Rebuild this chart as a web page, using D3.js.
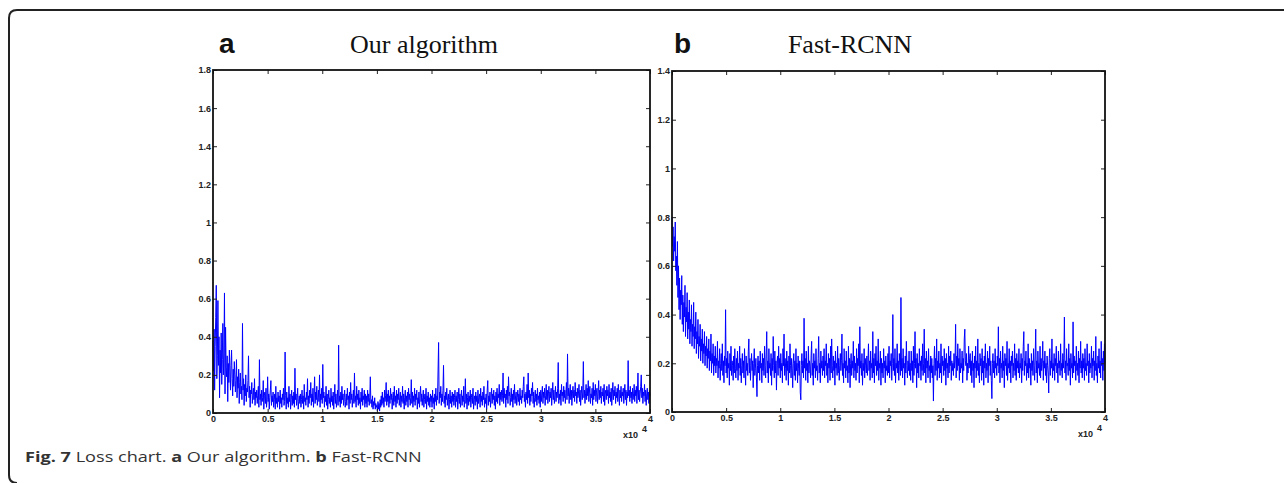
<!DOCTYPE html>
<html>
<head>
<meta charset="utf-8">
<script src="https://cdn.jsdelivr.net/npm/d3@7"></script>
<style>
  body { margin: 0; background: #fff; }
  .tick text { font-family: "Liberation Sans", Arial, sans-serif; font-weight: bold; font-size: 9px; fill: #222; }
</style>
</head>
<body>
<div id="vis"></div>
<script>
// Loss chart, two panels (a: our algorithm, b: Fast-RCNN)

const FRAME_WIDTH = 1284;
const FRAME_HEIGHT = 483;
const MAX_ITER = 40000;

const xTickValues = [0, 5000, 10000, 15000, 20000, 25000, 30000, 35000, 40000];
const xTickLabels = ["0", "0.5", "1", "1.5", "2", "2.5", "3", "3.5", "4"];

const yTicksA = [0, 0.2, 0.4, 0.6, 0.8, 1, 1.2, 1.4, 1.6, 1.8];
const yTickLabelsA = ["0", "0.2", "0.4", "0.6", "0.8", "1", "1.2", "1.4", "1.6", "1.8"];
const yTicksB = [0, 0.2, 0.4, 0.6, 0.8, 1, 1.2, 1.4];
const yTickLabelsB = ["0", "0.2", "0.4", "0.6", "0.8", "1", "1.2", "1.4"];

// loss, one value every 50 iterations (each row = 2000 iterations)
const lossA = [
  0.38, 0.22, 0.44, 0.12, 0.35, 0.50, 0.67, 0.18, 0.30, 0.59, 0.25, 0.40, 0.08, 0.33, 0.21, 0.42, 0.15, 0.28, 0.47, 0.20, 0.31, 0.63, 0.10, 0.45, 0.24, 0.19, 0.30, 0.06, 0.26, 0.16, 0.33, 0.22, 0.12, 0.25, 0.33, 0.18, 0.09, 0.23, 0.14, 0.27,
  0.20, 0.11, 0.17, 0.28, 0.08, 0.19, 0.13, 0.23, 0.05, 0.16, 0.21, 0.10, 0.14, 0.07, 0.47, 0.12, 0.18, 0.04, 0.15, 0.09, 0.20, 0.06, 0.13, 0.11, 0.17, 0.30, 0.08, 0.14, 0.03, 0.12, 0.10, 0.16, 0.05, 0.09, 0.13, 0.07, 0.18, 0.04, 0.11, 0.08,
  0.12, 0.05, 0.09, 0.14, 0.03, 0.28, 0.07, 0.10, 0.04, 0.12, 0.06, 0.08, 0.17, 0.02, 0.09, 0.11, 0.05, 0.13, 0.03, 0.07, 0.19, 0.06, 0.10, 0.02, 0.08, 0.12, 0.17, 0.04, 0.09, 0.06, 0.11, 0.03, 0.07, 0.10, 0.02, 0.14, 0.05, 0.08, 0.03, 0.11,
  0.06, 0.09, 0.02, 0.12, 0.05, 0.08, 0.03, 0.10, 0.07, 0.13, 0.04, 0.06, 0.32, 0.09, 0.02, 0.11, 0.05, 0.08, 0.03, 0.14, 0.06, 0.10, 0.02, 0.07, 0.12, 0.04, 0.09, 0.05, 0.11, 0.03, 0.235, 0.07, 0.10, 0.04, 0.08, 0.13, 0.02, 0.06, 0.09, 0.05,
  0.10, 0.03, 0.07, 0.12, 0.05, 0.09, 0.02, 0.15, 0.06, 0.08, 0.04, 0.11, 0.07, 0.18, 0.03, 0.09, 0.05, 0.12, 0.08, 0.16, 0.04, 0.10, 0.06, 0.13, 0.03, 0.09, 0.19, 0.05, 0.11, 0.07, 0.14, 0.04, 0.08, 0.12, 0.06, 0.20, 0.03, 0.10, 0.07, 0.13,
  0.05, 0.255, 0.08, 0.11, 0.03, 0.09, 0.06, 0.14, 0.04, 0.10, 0.02, 0.07, 0.12, 0.05, 0.08, 0.03, 0.13, 0.06, 0.09, 0.04, 0.11, 0.02, 0.08, 0.15, 0.05, 0.10, 0.03, 0.07, 0.12, 0.04, 0.356, 0.06, 0.09, 0.03, 0.11, 0.05, 0.14, 0.07, 0.10, 0.04,
  0.08, 0.12, 0.03, 0.06, 0.10, 0.04, 0.13, 0.07, 0.09, 0.02, 0.11, 0.05, 0.16, 0.07, 0.10, 0.03, 0.08, 0.12, 0.05, 0.21, 0.06, 0.09, 0.03, 0.14, 0.07, 0.10, 0.04, 0.12, 0.05, 0.08, 0.02, 0.11, 0.06, 0.13, 0.04, 0.09, 0.07, 0.12, 0.03, 0.10,
  0.05, 0.09, 0.03, 0.12, 0.06, 0.10, 0.04, 0.08, 0.19, 0.05, 0.07, 0.03, 0.09, 0.02, 0.06, 0.04, 0.08, 0.02, 0.05, 0.03, 0.04, 0.01, 0.06, 0.02, 0.05, 0.01, 0.07, 0.03, 0.09, 0.04, 0.11, 0.05, 0.08, 0.03, 0.12, 0.06, 0.09, 0.16, 0.04, 0.10,
  0.06, 0.12, 0.03, 0.09, 0.05, 0.13, 0.07, 0.10, 0.02, 0.08, 0.11, 0.04, 0.14, 0.06, 0.09, 0.03, 0.12, 0.05, 0.10, 0.07, 0.13, 0.04, 0.08, 0.11, 0.03, 0.09, 0.06, 0.14, 0.05, 0.10, 0.02, 0.08, 0.12, 0.04, 0.09, 0.06, 0.11, 0.03, 0.13, 0.07,
  0.10, 0.04, 0.08, 0.175, 0.05, 0.11, 0.03, 0.09, 0.06, 0.13, 0.04, 0.10, 0.07, 0.12, 0.02, 0.08, 0.05, 0.11, 0.03, 0.09, 0.14, 0.06, 0.10, 0.04, 0.08, 0.12, 0.03, 0.07, 0.10, 0.05, 0.13, 0.02, 0.09, 0.06, 0.11, 0.04, 0.08, 0.03, 0.10, 0.06,
  0.09, 0.03, 0.12, 0.05, 0.08, 0.02, 0.10, 0.06, 0.13, 0.04, 0.09, 0.07, 0.22, 0.37, 0.05, 0.11, 0.08, 0.14, 0.04, 0.10, 0.06, 0.12, 0.25, 0.05, 0.09, 0.03, 0.11, 0.07, 0.13, 0.04, 0.08, 0.10, 0.02, 0.07, 0.12, 0.05, 0.09, 0.03, 0.11, 0.06,
  0.10, 0.04, 0.08, 0.12, 0.03, 0.09, 0.06, 0.11, 0.02, 0.07, 0.13, 0.05, 0.10, 0.03, 0.08, 0.12, 0.04, 0.09, 0.06, 0.14, 0.03, 0.07, 0.18, 0.05, 0.10, 0.02, 0.08, 0.11, 0.04, 0.09, 0.06, 0.12, 0.03, 0.08, 0.10, 0.05, 0.13, 0.02, 0.07, 0.09,
  0.04, 0.11, 0.06, 0.09, 0.02, 0.12, 0.05, 0.08, 0.10, 0.03, 0.13, 0.06, 0.09, 0.04, 0.11, 0.07, 0.14, 0.03, 0.08, 0.05, 0.10, 0.02, 0.12, 0.17, 0.04, 0.09, 0.06, 0.11, 0.03, 0.08, 0.13, 0.05, 0.10, 0.07, 0.12, 0.04, 0.09, 0.02, 0.11, 0.06,
  0.13, 0.05, 0.10, 0.08, 0.15, 0.04, 0.11, 0.07, 0.12, 0.06, 0.09, 0.21, 0.05, 0.13, 0.08, 0.10, 0.03, 0.12, 0.07, 0.14, 0.05, 0.19, 0.09, 0.11, 0.04, 0.08, 0.13, 0.06, 0.10, 0.03, 0.12, 0.07, 0.15, 0.05, 0.09, 0.11, 0.04, 0.08, 0.12, 0.06,
  0.10, 0.04, 0.13, 0.07, 0.09, 0.05, 0.12, 0.08, 0.14, 0.19, 0.06, 0.10, 0.03, 0.11, 0.07, 0.15, 0.05, 0.21, 0.08, 0.12, 0.04, 0.10, 0.06, 0.13, 0.09, 0.16, 0.05, 0.11, 0.03, 0.08, 0.12, 0.06, 0.10, 0.04, 0.13, 0.07, 0.09, 0.05, 0.11, 0.03,
  0.12, 0.06, 0.10, 0.14, 0.05, 0.11, 0.08, 0.13, 0.04, 0.09, 0.15, 0.07, 0.12, 0.05, 0.10, 0.14, 0.06, 0.11, 0.08, 0.13, 0.04, 0.10, 0.16, 0.07, 0.12, 0.05, 0.09, 0.14, 0.06, 0.11, 0.08, 0.13, 0.265, 0.05, 0.10, 0.07, 0.12, 0.04, 0.15, 0.09,
  0.11, 0.06, 0.14, 0.08, 0.12, 0.05, 0.10, 0.16, 0.07, 0.31, 0.09, 0.13, 0.05, 0.11, 0.15, 0.07, 0.12, 0.04, 0.10, 0.14, 0.08, 0.12, 0.06, 0.16, 0.09, 0.11, 0.05, 0.13, 0.08, 0.10, 0.15, 0.06, 0.12, 0.04, 0.10, 0.14, 0.07, 0.11, 0.27, 0.08,
  0.12, 0.05, 0.10, 0.15, 0.07, 0.13, 0.09, 0.17, 0.06, 0.11, 0.14, 0.05, 0.10, 0.08, 0.13, 0.04, 0.16, 0.07, 0.12, 0.09, 0.15, 0.06, 0.11, 0.13, 0.05, 0.10, 0.17, 0.07, 0.12, 0.08, 0.14, 0.05, 0.11, 0.09, 0.13, 0.06, 0.15, 0.04, 0.10, 0.12,
  0.07, 0.14, 0.09, 0.12, 0.05, 0.15, 0.08, 0.11, 0.06, 0.13, 0.04, 0.10, 0.16, 0.07, 0.12, 0.09, 0.14, 0.05, 0.11, 0.08, 0.13, 0.06, 0.15, 0.10, 0.04, 0.12, 0.08, 0.14, 0.06, 0.11, 0.09, 0.13, 0.05, 0.10, 0.15, 0.07, 0.12, 0.04, 0.11, 0.08,
  0.275, 0.09, 0.12, 0.06, 0.14, 0.08, 0.11, 0.05, 0.13, 0.07, 0.10, 0.15, 0.06, 0.12, 0.09, 0.14, 0.05, 0.11, 0.21, 0.07, 0.12, 0.06, 0.10, 0.14, 0.20, 0.08, 0.13, 0.05, 0.11, 0.09, 0.15, 0.06, 0.12, 0.04, 0.10, 0.13, 0.07, 0.11, 0.05, 0.12,
  0.09
];

// loss, one value every 50 iterations (each row = 2000 iterations)
const lossB = [
  0.80, 0.68, 0.76, 0.62, 0.72, 0.66, 0.78, 0.58, 0.64, 0.52, 0.70, 0.47, 0.60, 0.42, 0.55, 0.38, 0.50, 0.44, 0.56, 0.36, 0.48, 0.33, 0.45, 0.39, 0.52, 0.31, 0.43, 0.37, 0.49, 0.30, 0.41, 0.34, 0.46, 0.28, 0.38, 0.33, 0.44, 0.27, 0.36, 0.31,
  0.45, 0.26, 0.35, 0.30, 0.41, 0.24, 0.33, 0.28, 0.38, 0.22, 0.31, 0.27, 0.36, 0.21, 0.30, 0.25, 0.34, 0.20, 0.28, 0.24, 0.33, 0.19, 0.27, 0.23, 0.31, 0.18, 0.26, 0.22, 0.30, 0.17, 0.25, 0.21, 0.32, 0.16, 0.24, 0.20, 0.28, 0.15, 0.23, 0.19,
  0.27, 0.16, 0.22, 0.19, 0.29, 0.14, 0.21, 0.18, 0.26, 0.13, 0.20, 0.24, 0.17, 0.28, 0.15, 0.21, 0.12, 0.23, 0.19, 0.42, 0.16, 0.22, 0.14, 0.25, 0.18, 0.20, 0.11, 0.24, 0.17, 0.27, 0.15, 0.21, 0.19, 0.13, 0.23, 0.16, 0.26, 0.18, 0.14, 0.22,
  0.17, 0.25, 0.13, 0.20, 0.18, 0.27, 0.15, 0.22, 0.12, 0.19, 0.24, 0.16, 0.21, 0.14, 0.26, 0.18, 0.11, 0.23, 0.17, 0.20, 0.15, 0.25, 0.30, 0.16, 0.22, 0.13, 0.19, 0.24, 0.17, 0.21, 0.10, 0.20, 0.26, 0.15, 0.18, 0.22, 0.14, 0.063, 0.19, 0.23,
  0.16, 0.21, 0.13, 0.25, 0.18, 0.20, 0.12, 0.24, 0.17, 0.22, 0.15, 0.27, 0.19, 0.14, 0.23, 0.33, 0.16, 0.21, 0.12, 0.26, 0.18, 0.20, 0.15, 0.24, 0.11, 0.22, 0.17, 0.31, 0.19, 0.14, 0.25, 0.16, 0.21, 0.09, 0.20, 0.23, 0.15, 0.27, 0.18, 0.22,
  0.14, 0.24, 0.17, 0.20, 0.12, 0.26, 0.19, 0.32, 0.15, 0.22, 0.18, 0.13, 0.25, 0.17, 0.21, 0.11, 0.23, 0.16, 0.28, 0.19, 0.14, 0.22, 0.18, 0.10, 0.20, 0.24, 0.15, 0.21, 0.13, 0.26, 0.17, 0.20, 0.12, 0.23, 0.18, 0.15, 0.21, 0.08, 0.05, 0.19,
  0.24, 0.16, 0.21, 0.14, 0.385, 0.18, 0.22, 0.13, 0.25, 0.17, 0.20, 0.12, 0.27, 0.16, 0.21, 0.19, 0.14, 0.23, 0.29, 0.15, 0.20, 0.11, 0.24, 0.18, 0.21, 0.14, 0.26, 0.17, 0.19, 0.13, 0.22, 0.31, 0.16, 0.20, 0.12, 0.25, 0.18, 0.21, 0.15, 0.23,
  0.17, 0.26, 0.14, 0.21, 0.19, 0.28, 0.15, 0.20, 0.12, 0.24, 0.18, 0.22, 0.13, 0.27, 0.16, 0.30, 0.19, 0.14, 0.23, 0.17, 0.21, 0.11, 0.25, 0.18, 0.20, 0.15, 0.27, 0.16, 0.22, 0.13, 0.19, 0.24, 0.17, 0.21, 0.32, 0.15, 0.20, 0.12, 0.26, 0.18,
  0.21, 0.14, 0.25, 0.17, 0.19, 0.12, 0.27, 0.16, 0.22, 0.10, 0.20, 0.24, 0.15, 0.21, 0.18, 0.29, 0.14, 0.23, 0.17, 0.20, 0.13, 0.26, 0.16, 0.22, 0.19, 0.28, 0.12, 0.35, 0.18, 0.21, 0.15, 0.24, 0.11, 0.20, 0.17, 0.26, 0.14, 0.22, 0.19, 0.16,
  0.23, 0.15, 0.20, 0.28, 0.17, 0.21, 0.13, 0.25, 0.18, 0.20, 0.14, 0.33, 0.16, 0.22, 0.12, 0.24, 0.19, 0.27, 0.15, 0.21, 0.17, 0.30, 0.13, 0.20, 0.18, 0.25, 0.11, 0.22, 0.16, 0.20, 0.14, 0.26, 0.18, 0.21, 0.12, 0.23, 0.17, 0.19, 0.15, 0.24,
  0.16, 0.27, 0.14, 0.21, 0.19, 0.24, 0.13, 0.20, 0.40, 0.17, 0.22, 0.15, 0.26, 0.12, 0.20, 0.18, 0.28, 0.16, 0.21, 0.13, 0.24, 0.19, 0.15, 0.47, 0.17, 0.22, 0.14, 0.26, 0.18, 0.20, 0.11, 0.23, 0.16, 0.29, 0.19, 0.14, 0.21, 0.17, 0.25, 0.15,
  0.20, 0.13, 0.25, 0.17, 0.21, 0.12, 0.27, 0.15, 0.20, 0.33, 0.18, 0.22, 0.10, 0.24, 0.16, 0.20, 0.14, 0.26, 0.19, 0.21, 0.13, 0.23, 0.17, 0.28, 0.15, 0.20, 0.34, 0.16, 0.22, 0.12, 0.25, 0.18, 0.21, 0.14, 0.26, 0.17, 0.19, 0.12, 0.23, 0.16,
  0.22, 0.14, 0.19, 0.045, 0.20, 0.27, 0.15, 0.22, 0.17, 0.30, 0.13, 0.21, 0.18, 0.25, 0.14, 0.20, 0.16, 0.28, 0.12, 0.23, 0.19, 0.21, 0.15, 0.26, 0.17, 0.22, 0.11, 0.24, 0.18, 0.20, 0.14, 0.27, 0.16, 0.23, 0.19, 0.25, 0.13, 0.21, 0.17, 0.20,
  0.15, 0.24, 0.18, 0.21, 0.36, 0.14, 0.23, 0.17, 0.28, 0.19, 0.22, 0.13, 0.26, 0.16, 0.20, 0.18, 0.25, 0.12, 0.22, 0.17, 0.30, 0.34, 0.21, 0.19, 0.24, 0.13, 0.20, 0.16, 0.27, 0.18, 0.22, 0.24, 0.15, 0.21, 0.12, 0.25, 0.17, 0.20, 0.10, 0.23,
  0.18, 0.27, 0.14, 0.21, 0.17, 0.30, 0.15, 0.20, 0.12, 0.24, 0.19, 0.22, 0.13, 0.26, 0.16, 0.21, 0.11, 0.23, 0.18, 0.28, 0.14, 0.20, 0.17, 0.25, 0.12, 0.22, 0.19, 0.27, 0.15, 0.21, 0.13, 0.055, 0.20, 0.24, 0.16, 0.21, 0.14, 0.26, 0.18, 0.20,
  0.15, 0.23, 0.19, 0.35, 0.16, 0.22, 0.12, 0.25, 0.18, 0.20, 0.14, 0.27, 0.17, 0.21, 0.10, 0.24, 0.19, 0.22, 0.15, 0.29, 0.13, 0.20, 0.18, 0.26, 0.16, 0.21, 0.12, 0.23, 0.19, 0.25, 0.14, 0.20, 0.17, 0.28, 0.15, 0.22, 0.13, 0.24, 0.18, 0.21,
  0.16, 0.26, 0.14, 0.20, 0.18, 0.24, 0.12, 0.22, 0.17, 0.27, 0.33, 0.15, 0.21, 0.19, 0.25, 0.13, 0.20, 0.16, 0.28, 0.14, 0.22, 0.18, 0.20, 0.11, 0.24, 0.17, 0.21, 0.15, 0.26, 0.19, 0.13, 0.23, 0.34, 0.16, 0.21, 0.12, 0.25, 0.18, 0.20, 0.15,
  0.27, 0.14, 0.22, 0.17, 0.20, 0.29, 0.13, 0.21, 0.18, 0.25, 0.15, 0.20, 0.12, 0.23, 0.19, 0.16, 0.078, 0.22, 0.26, 0.15, 0.21, 0.18, 0.30, 0.14, 0.20, 0.17, 0.24, 0.13, 0.22, 0.19, 0.27, 0.16, 0.20, 0.12, 0.25, 0.18, 0.21, 0.15, 0.28, 0.17,
  0.20, 0.14, 0.24, 0.18, 0.22, 0.39, 0.16, 0.21, 0.13, 0.26, 0.19, 0.20, 0.15, 0.28, 0.17, 0.22, 0.11, 0.24, 0.18, 0.20, 0.14, 0.37, 0.16, 0.23, 0.19, 0.21, 0.13, 0.27, 0.17, 0.20, 0.15, 0.25, 0.12, 0.22, 0.18, 0.29, 0.16, 0.21, 0.14, 0.24,
  0.18, 0.22, 0.13, 0.26, 0.17, 0.20, 0.15, 0.28, 0.19, 0.21, 0.12, 0.24, 0.16, 0.20, 0.18, 0.27, 0.14, 0.22, 0.19, 0.25, 0.13, 0.21, 0.17, 0.31, 0.15, 0.20, 0.12, 0.23, 0.18, 0.26, 0.16, 0.21, 0.14, 0.29, 0.19, 0.22, 0.13, 0.25, 0.17, 0.28,
  0.20
];

const SVG = d3.select("#vis")
              .append("svg")
                .attr("width", FRAME_WIDTH)
                .attr("height", FRAME_HEIGHT);

// outer figure frame (top rule + rounded left edge)
SVG.append("path")
    .attr("d", "M17,483 Q9,483 9,475 L9,18 Q9,10 17,10 L1284,10")
    .attr("fill", "none")
    .attr("stroke", "#222")
    .attr("stroke-width", 2);

function drawPanel(cfg) {
  const X_SCALE = d3.scaleLinear()
                    .domain([0, MAX_ITER])
                    .range([cfg.left, cfg.right]);
  const Y_SCALE = d3.scaleLinear()
                    .domain([0, cfg.yMax])
                    .range([cfg.bottom, cfg.top]);

  const step = MAX_ITER / (cfg.values.length - 1);
  const g = SVG.append("g");

  // the loss curve
  const line = d3.line()
                 .x((d, i) => X_SCALE(i * step))
                 .y((d) => Y_SCALE(d));

  g.append("path")
    .datum(cfg.values)
    .attr("d", line)
    .attr("fill", "none")
    .attr("stroke", "#0000ff")
    .attr("stroke-width", 1);

  // axes with inward ticks on all four sides
  g.append("g")
    .attr("transform", "translate(0," + cfg.bottom + ")")
    .call(d3.axisBottom(X_SCALE)
            .tickValues(xTickValues)
            .tickFormat((d, i) => xTickLabels[i])
            .tickSizeInner(-4).tickSizeOuter(0).tickPadding(3));

  g.append("g")
    .attr("transform", "translate(0," + cfg.top + ")")
    .call(d3.axisTop(X_SCALE)
            .tickValues(xTickValues)
            .tickFormat("")
            .tickSizeInner(-4).tickSizeOuter(0));

  g.append("g")
    .attr("transform", "translate(" + cfg.left + ",0)")
    .call(d3.axisLeft(Y_SCALE)
            .tickValues(cfg.yTicks)
            .tickFormat((d, i) => cfg.yLabels[i])
            .tickSizeInner(-4).tickSizeOuter(0).tickPadding(2));

  g.append("g")
    .attr("transform", "translate(" + cfg.right + ",0)")
    .call(d3.axisRight(Y_SCALE)
            .tickValues(cfg.yTicks)
            .tickFormat("")
            .tickSizeInner(-4).tickSizeOuter(0));

  g.selectAll(".domain").remove();
  g.selectAll(".tick line").attr("stroke", "#222").attr("stroke-width", 1);

  g.append("rect")
    .attr("x", cfg.left)
    .attr("y", cfg.top)
    .attr("width", cfg.right - cfg.left)
    .attr("height", cfg.bottom - cfg.top)
    .attr("fill", "none")
    .attr("stroke", "#111")
    .attr("stroke-width", 1.8);

  // x10^4 multiplier
  g.append("text")
    .attr("x", cfg.right - 27)
    .attr("y", cfg.bottom + 25)
    .attr("font-family", "Liberation Sans, Arial, sans-serif")
    .attr("font-weight", "bold")
    .attr("font-size", 9)
    .attr("fill", "#222")
    .text("x10");
  g.append("text")
    .attr("x", cfg.right - 8)
    .attr("y", cfg.bottom + 19)
    .attr("font-family", "Liberation Sans, Arial, sans-serif")
    .attr("font-weight", "bold")
    .attr("font-size", 9)
    .attr("fill", "#222")
    .text("4");

  // panel letter and title
  g.append("text")
    .attr("x", cfg.letterX)
    .attr("y", 53)
    .attr("font-family", "Liberation Sans, Arial, sans-serif")
    .attr("font-weight", "bold")
    .attr("font-size", 28)
    .attr("fill", "#111")
    .text(cfg.letter);
  g.append("text")
    .attr("x", cfg.titleX)
    .attr("y", 53)
    .attr("text-anchor", "middle")
    .attr("font-family", "Liberation Serif, 'Times New Roman', serif")
    .attr("font-size", 26)
    .attr("fill", "#111")
    .text(cfg.title);
}

drawPanel({left: 213, right: 650, top: 70, bottom: 413, yMax: 1.8,
           yTicks: yTicksA, yLabels: yTickLabelsA, values: lossA,
           letter: "a", letterX: 219, title: "Our algorithm", titleX: 424});

drawPanel({left: 672, right: 1105, top: 71, bottom: 412, yMax: 1.4,
           yTicks: yTicksB, yLabels: yTickLabelsB, values: lossB,
           letter: "b", letterX: 674, title: "Fast-RCNN", titleX: 850});

// caption (the source page is stretched horizontally)
const caption = SVG.append("text")
                   .attr("transform", "translate(25,462) scale(1.25,1)")
                   .attr("font-family", "'Open Sans', 'Noto Sans', sans-serif")
                   .attr("font-size", 14.5)
                   .attr("fill", "#333");
[["Fig. 7", "bold"], [" Loss chart. ", "normal"], ["a", "bold"],
 [" Our algorithm. ", "normal"], ["b", "bold"], [" Fast-RCNN", "normal"]]
  .forEach((p) => {
    caption.append("tspan").attr("font-weight", p[1]).text(p[0]);
  });
</script>
</body>
</html>
